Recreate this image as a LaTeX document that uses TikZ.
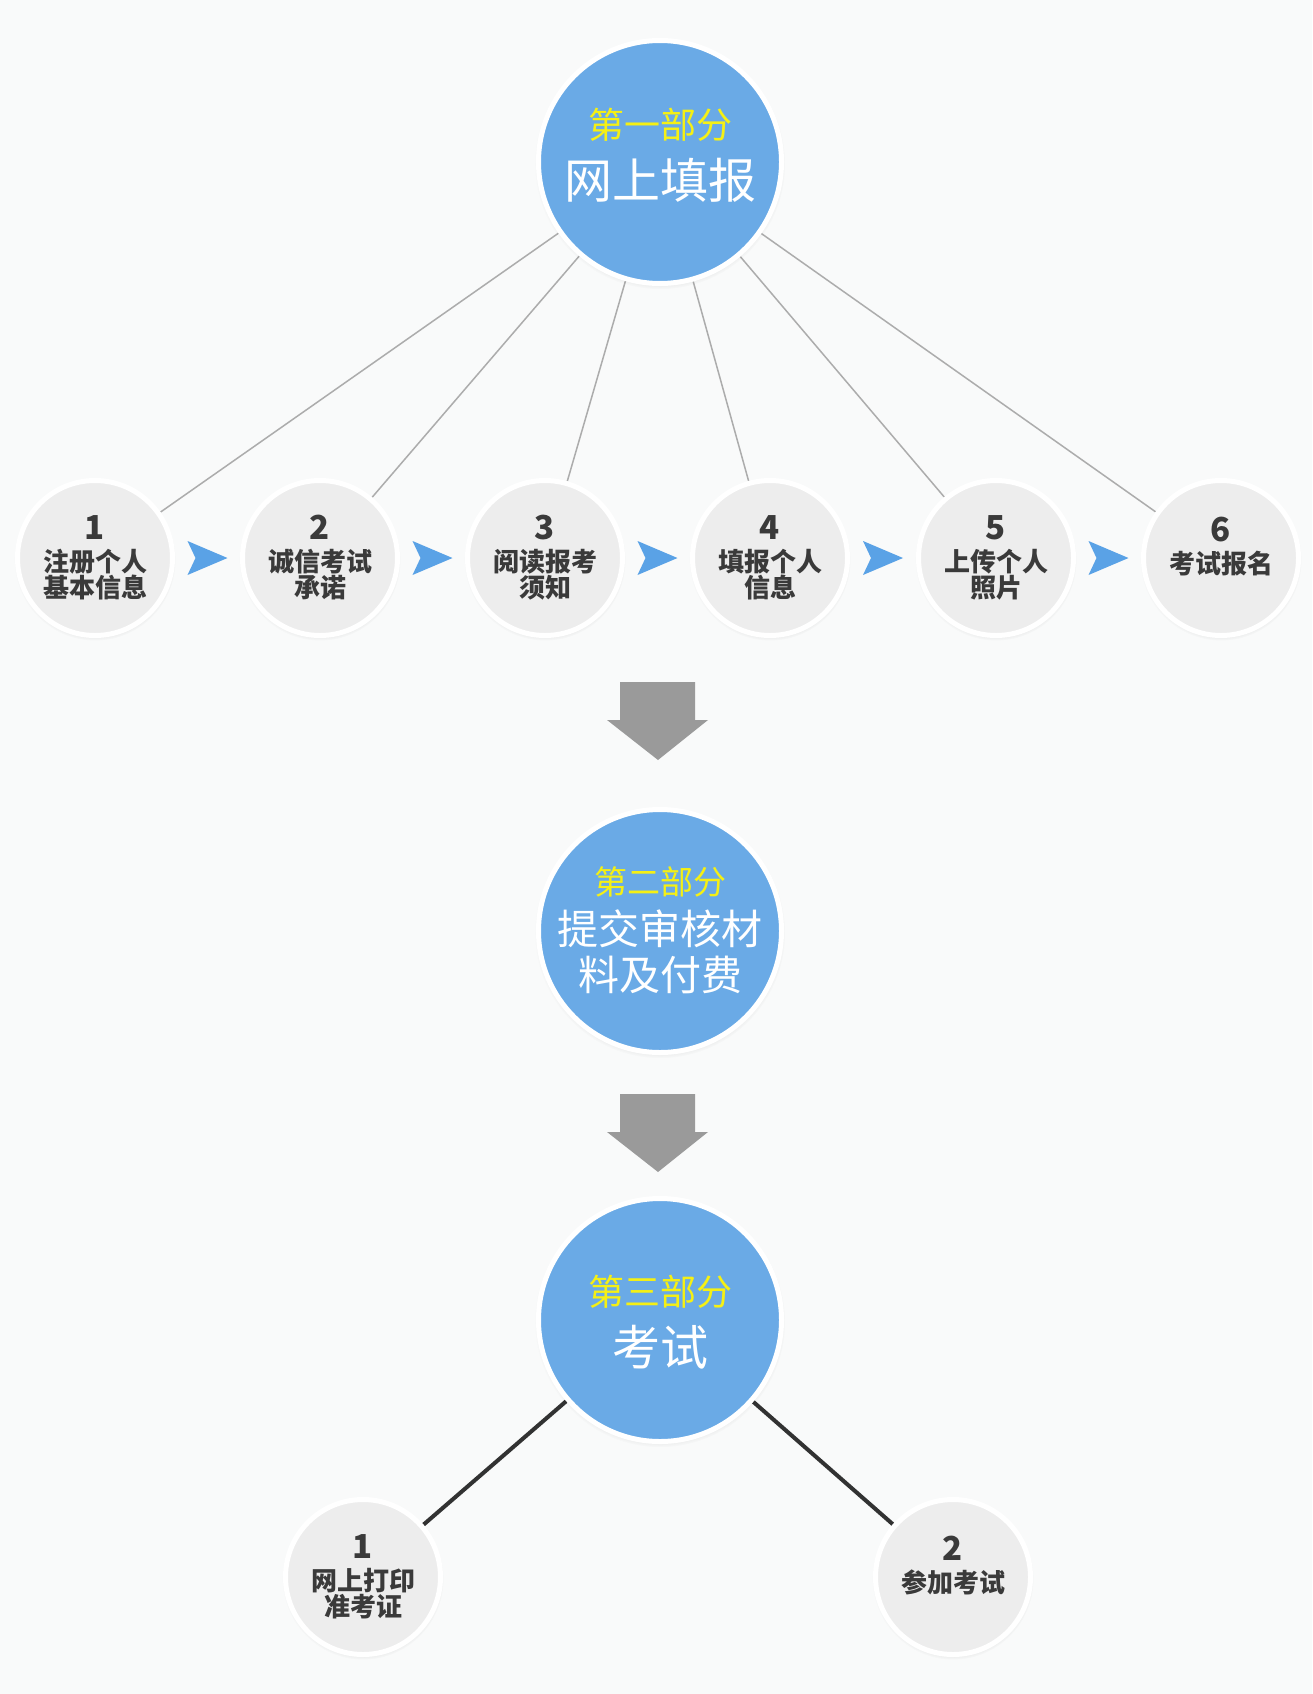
\documentclass[tikz,border=0pt]{standalone}
\usepackage{fontspec}
\setmainfont{Noto Sans CJK SC}
\usetikzlibrary{shadows,backgrounds}
\definecolor{partblue}{RGB}{106,170,230}
\definecolor{headyellow}{RGB}{245,240,20}
\definecolor{stepgray}{RGB}{237,237,237}
\definecolor{stepink}{RGB}{58,58,58}
\definecolor{spokegray}{RGB}{172,172,172}
\definecolor{exitink}{RGB}{50,50,50}
\definecolor{dartblue}{RGB}{90,162,230}
\definecolor{arrowgray}{RGB}{154,154,154}
\definecolor{pagegray}{RGB}{249,250,250}
\newcommand{\stepno}[1]{{\fontsize{33}{33}\selectfont #1}\\[6pt]}

\begin{document}
\begin{tikzpicture}[x=1pt, y=-1pt,
  part/.style={circle, draw=white, line width=5pt, fill=partblue, minimum size=243pt, inner sep=0pt,
    circular drop shadow={shadow xshift=0pt, shadow yshift=-2pt, shadow scale=1.03, fill=black, opacity=0.18}},
  parthead/.style={text=headyellow, inner sep=0pt},
  partname/.style={text=white, align=center, inner sep=0pt},
  stepnode/.style={circle, draw=white, line width=5pt, fill=stepgray, minimum size=155pt, inner sep=0pt,
    align=center, text=stepink, font=\bfseries\fontsize{26}{26}\selectfont,
    circular drop shadow={shadow xshift=0pt, shadow yshift=-2pt, shadow scale=1.04, fill=black, opacity=0.15}},
  spoke/.style={draw=spokegray, line width=1.5pt},
  exitline/.style={draw=exitink, line width=4pt},
  dart/.style={fill=dartblue},
  downarrow/.style={fill=arrowgray}]
\useasboundingbox (0,0) rectangle (1312,1694);

% Part one: online form and its six steps
\node[part] (p1) at (660,162) {};
\node[parthead, font=\fontsize{36}{36}\selectfont] (p1head) at ([yshift=37pt]p1.center) {第一部分};
\node[partname, font=\fontsize{48}{48}\selectfont] (p1name) at ([yshift=-18pt]p1.center) {网上填报};

\node[stepnode] (s1) at (95,558) {\stepno{1}注册个人\\基本信息};
\node[stepnode] (s2) at (320,558) {\stepno{2}诚信考试\\承诺};
\node[stepnode] (s3) at (545,558) {\stepno{3}阅读报考\\须知};
\node[stepnode] (s4) at (770,558) {\stepno{4}填报个人\\信息};
\node[stepnode] (s5) at (996,558) {\stepno{5}上传个人\\照片};
\node[stepnode] (s6) at (1221,558) {\stepno{6}考试报名\\\mbox{}};

% Part two: documents and fee
\node[part] (p2) at (660,931) {};
\node[parthead, font=\fontsize{33}{33}\selectfont] (p2head) at ([yshift=49pt]p2.center) {第二部分};
\node[partname, font=\fontsize{41}{46}\selectfont] (p2name) at ([yshift=-21pt]p2.center) {提交审核材\\料及付费};

% Part three: exam
\node[part] (p3) at (660,1320) {};
\node[parthead, font=\fontsize{36}{36}\selectfont] (p3head) at ([yshift=28pt]p3.center) {第三部分};
\node[partname, font=\fontsize{48}{48}\selectfont] (p3name) at ([yshift=-27pt]p3.center) {考试};

\node[stepnode] (b1) at (363,1577) {\stepno{1}网上打印\\准考证};
\node[stepnode] (b2) at (953,1577) {\stepno{2}参加考试\\\mbox{}};

% Connectors behind the circles
\begin{scope}[on background layer]
\fill[pagegray] (0,0) rectangle (1312,1694);
\foreach \i in {1,...,6}
  \draw[spoke] (p1) -- (s\i);
\draw[exitline] (p3) -- (b1);
\draw[exitline] (p3) -- (b2);
\end{scope}

% Blue darts between the steps
\foreach \i/\j in {1/2,2/3,3/4,4/5,5/6} {
  \path (s\i) -- (s\j) coordinate[midway] (m\i);
  \fill[dart] (m\i) ++(-20,-17) -- ++(40,17) -- ++(-40,17) -- ++(8,-17) -- cycle;
}

% Gray arrows between the parts
\foreach \top in {682,1094}
  \fill[downarrow] (620,\top) -- (695,\top) -- (695,\top+38) -- (708,\top+38)
    -- (658,\top+78) -- (607,\top+38) -- (620,\top+38) -- cycle;
\end{tikzpicture}
\end{document}
